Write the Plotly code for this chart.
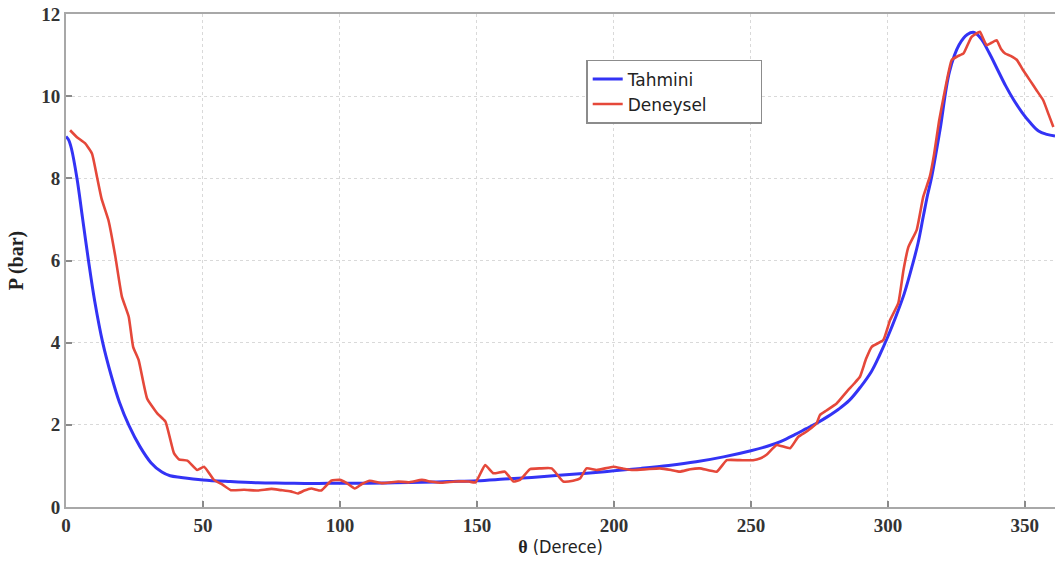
import plotly.graph_objects as go

# Crank angle (degrees) and pressure (bar) – predicted curve
theta_tahmini = [0, 1, 2, 4, 6, 8.2, 10.5, 13.4, 16.5, 19.5, 23, 27, 31, 35, 38, 42, 50, 60, 70,
                 80, 90, 100, 110, 120, 130, 140, 150, 160, 170, 180, 190, 200, 210, 220, 230,
                 240, 250, 256, 261, 266, 270, 274, 278, 282, 286, 290, 294, 297, 300, 303, 306,
                 309, 311, 313, 314.5, 316, 319, 322.5, 326, 329, 331.5, 334, 337, 340, 343, 346,
                 349, 352, 355, 358, 361]
p_tahmini = [9.02, 8.93, 8.72, 8.0, 7.05, 6.0, 5.0, 4.0, 3.2, 2.55, 1.98, 1.47, 1.08, 0.85, 0.76,
             0.72, 0.66, 0.62, 0.59, 0.58, 0.57, 0.58, 0.58, 0.59, 0.6, 0.62, 0.64, 0.68, 0.72,
             0.77, 0.82, 0.88, 0.94, 1.01, 1.1, 1.22, 1.37, 1.48, 1.6, 1.76, 1.9, 2.04, 2.2, 2.38,
             2.6, 2.92, 3.3, 3.7, 4.15, 4.65, 5.2, 5.9, 6.42, 7.1, 7.6, 8.04, 9.17, 10.6, 11.25,
             11.5, 11.55, 11.4, 11.05, 10.65, 10.25, 9.9, 9.6, 9.35, 9.15, 9.07, 9.03]

# Measured curve
theta_deneysel = [1.5, 4, 7, 9.5, 11.3, 13, 15.5, 18, 20.4, 22.9, 24.5, 26.5, 29.6, 33.3, 36.3,
                  39.4, 41.2, 44.3, 47.9, 50.4, 54, 57, 60.2, 65, 70, 75, 78.5, 82, 84.6, 87,
                  89.5, 93.2, 96.8, 99.9, 102.5, 105.4, 108, 110.9, 115.2, 121.3, 125, 129.9, 133,
                  137.2, 142, 147, 149.5, 153, 156, 160.2, 163.3, 165.7, 169.4, 173.1, 177.3,
                  181.5, 185.1, 187.7, 190, 193.7, 199.8, 203, 207, 212, 216.8, 220.9, 224, 227.9,
                  231.4, 237.5, 241.2, 246, 250.8, 253.3, 255.7, 259.4, 264.3, 267.3, 270.6, 274,
                  275.2, 277.6, 281.3, 285, 287.6, 289.8, 292, 294.1, 298.3, 300.8, 303.8, 305.7,
                  307.5, 310.5, 312.9, 315.3, 316.9, 318.7, 320.4, 323.3, 325.4, 327.6, 330.5,
                  333.6, 334.8, 336, 337.8, 339.7, 341.3, 342.8, 344.8, 347.1, 349.2, 351.8, 354.2,
                  356.7, 358.7, 360.4]
p_deneysel = [9.17, 9.0, 8.85, 8.6, 8.04, 7.5, 6.98, 6.1, 5.12, 4.63, 3.9, 3.58, 2.64, 2.28, 2.08,
              1.31, 1.16, 1.13, 0.9, 0.98, 0.66, 0.55, 0.41, 0.42, 0.4, 0.44, 0.41, 0.38, 0.33,
              0.4, 0.45, 0.4, 0.64, 0.66, 0.58, 0.45, 0.56, 0.64, 0.58, 0.62, 0.6, 0.66, 0.62,
              0.59, 0.62, 0.62, 0.6, 1.02, 0.82, 0.86, 0.62, 0.66, 0.92, 0.94, 0.94, 0.62, 0.64,
              0.7, 0.94, 0.9, 0.98, 0.94, 0.9, 0.92, 0.94, 0.9, 0.86, 0.92, 0.94, 0.86, 1.14,
              1.14, 1.14, 1.18, 1.27, 1.51, 1.43, 1.71, 1.85, 2.04, 2.24, 2.35, 2.52, 2.81, 3.0,
              3.17, 3.6, 3.9, 4.06, 4.55, 4.96, 5.77, 6.33, 6.74, 7.55, 8.04, 8.6, 9.4, 10.0,
              10.88, 10.97, 11.04, 11.44, 11.57, 11.4, 11.24, 11.3, 11.36, 11.15, 11.04, 10.98,
              10.88, 10.65, 10.39, 10.15, 9.9, 9.55, 9.25]

x_ticks = [0, 50, 100, 150, 200, 250, 300, 350]
y_ticks = [0, 2, 4, 6, 8, 10, 12]

serif = "Liberation Serif, Times New Roman, serif"
pad = "\u00a0" * 9  # keeps the legend box wide

fig = go.Figure()
fig.add_trace(go.Scatter(
    x=theta_tahmini, y=p_tahmini, name="Tahmini" + pad, mode="lines",
    line=dict(color="#3333f5", width=3, shape="spline", smoothing=1.0),
))
fig.add_trace(go.Scatter(
    x=theta_deneysel, y=p_deneysel, name="Deneysel" + pad, mode="lines",
    line=dict(color="#e5483a", width=2.6, shape="spline", smoothing=0.4),
))

axis_common = dict(
    showgrid=True, gridcolor="#d9d9d9", griddash="dot", gridwidth=1,
    showline=True, linecolor="#a8a8a8", linewidth=2,
    ticks="inside", ticklen=6, tickcolor="#8a8a8a", tickwidth=1.5,
    zeroline=False,
    tickfont=dict(family=serif, size=19, color="#333333", weight="bold"),
)

fig.update_xaxes(
    range=[0, 361], tickvals=x_ticks, mirror=True, **axis_common,
    title=dict(
        text="<span style='font-family:Liberation Serif;font-weight:bold'>θ</span>"
             " (Derece)",
        font=dict(family="Liberation Sans Narrow, DejaVu Sans Condensed, sans-serif",
                  size=18, color="#222222"),
        standoff=6,
    ),
)
fig.update_yaxes(
    range=[0, 12], tickvals=y_ticks, **axis_common,
    title=dict(text="P (bar)", font=dict(family=serif, size=20, color="#222222",
                                         weight="bold"), standoff=12),
)

fig.update_layout(
    width=1055, height=565,
    margin=dict(l=66, r=0, t=14, b=58),
    plot_bgcolor="white", paper_bgcolor="white",
    showlegend=True,
    legend=dict(
        x=0.526, y=0.907, xanchor="left", yanchor="top",
        bgcolor="white", bordercolor="#8c8c8c", borderwidth=1.5,
        font=dict(family="DejaVu Sans, Verdana, sans-serif", size=17, color="#222222"),
        tracegroupgap=0, itemwidth=30,
    ),
)

fig.write_html("out.html")
